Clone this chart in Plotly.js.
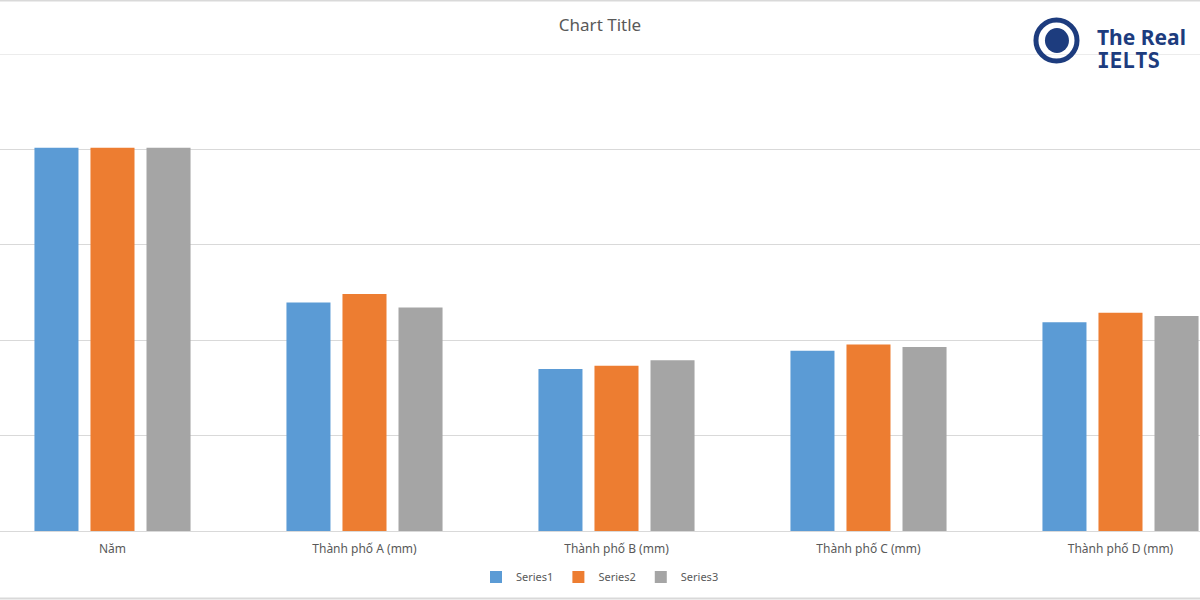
<!DOCTYPE html>
<html>
<head>
<meta charset="utf-8">
<script src="https://cdn.plot.ly/plotly-3.0.1.min.js"></script>
<style>html,body{margin:0;padding:0;background:#fff;}#chart{width:1200px;height:600px;}</style>
</head>
<body>
<div id="chart"></div>
<script>
const categories = ["Năm", "Thành phố A (mm)", "Thành phố B (mm)", "Thành phố C (mm)", "Thành phố D (mm)"];
const seriesNames = ["Series1", "Series2", "Series3"];
const series1 = [2008, 1197, 849, 945, 1094];
const series2 = [2008, 1242, 866, 978, 1144];
const series3 = [2008, 1172, 895, 964, 1127];
const seriesColors = ["#5b9bd5", "#ed7d31", "#a5a5a5"];
const yMax = 2500;

const allSeries = [series1, series2, series3];
const traces = allSeries.map((vals, k) => ({
  type: "bar",
  name: seriesNames[k],
  x: categories,
  y: vals,
  marker: { color: seriesColors[k] },
  hoverinfo: "skip"
}));

const navy = "#1d3c7e";
const layout = {
  width: 1200, height: 600,
  margin: { l: 0, r: 0, t: 54, b: 69, pad: 0 },
  paper_bgcolor: "#ffffff", plot_bgcolor: "#ffffff",
  barmode: "group", bargap: 0.333, bargroupgap: 0.214,
  font: { family: "Noto Sans, Liberation Sans, sans-serif", color: "#595959" },
  title: { text: "Chart Title", x: 0.5, xanchor: "center", y: 0.958, yanchor: "middle", yref: "container",
           font: { size: 17, color: "#595959", family: "Noto Sans, sans-serif" } },
  xaxis: {
    type: "category", range: [-0.4464, 4.3155],
    showgrid: false, zeroline: false, showline: true, linecolor: "#d9d9d9", linewidth: 1,
    ticks: "", ticklabelstandoff: 7,
    tickfont: { size: 12, color: "#595959", family: "Noto Sans, sans-serif" },
    fixedrange: true
  },
  yaxis: {
    range: [0, yMax], dtick: 500, showgrid: true, gridcolor: "#d9d9d9", gridwidth: 1,
    zeroline: false, showticklabels: false, ticks: "", fixedrange: true
  },
  legend: {
    orientation: "h", x: 0.5, xanchor: "center", y: -0.0964, yanchor: "middle",
    font: { size: 11, color: "#595959", family: "Noto Sans, sans-serif" },
    itemwidth: 30, tracegroupgap: 0
  },
  shapes: [
    { type: "line", xref: "paper", yref: "y", x0: 0, x1: 1, y0: yMax, y1: yMax, line: { color: "#d9d9d9", width: 1 }, layer: "below" },
    { type: "line", xref: "paper", yref: "paper", x0: 0, x1: 1, y0: 1.1122, y1: 1.1122, line: { color: "#d9d9d9", width: 2 } },
    { type: "line", xref: "paper", yref: "paper", x0: 0, x1: 1, y0: -0.1415, y1: -0.1415, line: { color: "#d9d9d9", width: 2 } },
    { type: "circle", xref: "paper", yref: "paper", x0: 0.8633, x1: 0.8975, y0: 0.9853, y1: 1.0712, line: { color: navy, width: 5 }, fillcolor: "rgba(0,0,0,0)" },
    { type: "circle", xref: "paper", yref: "paper", x0: 0.8708, x1: 0.8908, y0: 1.0021, y1: 1.0545, line: { width: 0 }, fillcolor: navy }
  ],
  annotations: [
    { text: "<b>The Real</b>", xref: "paper", yref: "paper", x: 0.9125, xanchor: "left", y: 1.0356, yanchor: "middle",
      showarrow: false, font: { size: 21, color: navy, family: "Noto Sans, sans-serif" } },
    { text: "<b>IELTS</b>", xref: "paper", yref: "paper", x: 0.9125, xanchor: "left", y: 0.9853, yanchor: "middle",
      showarrow: false, font: { size: 21, color: navy, family: "DejaVu Sans Mono, monospace" } }
  ]
};

Plotly.newPlot("chart", traces, layout, { displayModeBar: false, staticPlot: true });
</script>
</body>
</html>
